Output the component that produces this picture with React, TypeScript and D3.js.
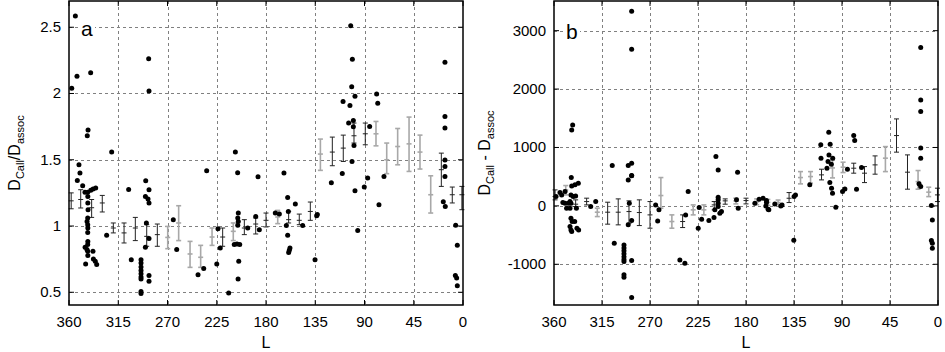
import * as d3 from 'd3'

// galactic longitude ticks (reversed axis)
const lTicks = [360, 315, 270, 225, 180, 135, 90, 45, 0]
const ratioTicks = [0.5, 1, 1.5, 2, 2.5]
const diffTicks = [-1000, 0, 1000, 2000, 3000]

// panel a: individual clouds [L, Dcall/Dassoc]
const ratioDots: [number, number][] = [
  [354.2, 2.585], [352.7, 2.131], [357.5, 2.04], [340.2, 2.156], [342.6, 1.724], [343.3, 1.681],
  [321.0, 1.558], [350.9, 1.462], [350.0, 1.4], [352.4, 1.344], [347.5, 1.304], [345.4, 1.254],
  [342.9, 1.254], [342.8, 1.223], [342.8, 1.174], [342.6, 1.123], [342.9, 1.06], [343.5, 1.035],
  [342.9, 1.01], [342.8, 0.985], [342.9, 0.952], [342.8, 0.884], [342.9, 0.86], [345.3, 0.84],
  [343.6, 0.822], [342.9, 0.809], [342.8, 0.777], [338.1, 0.809], [337.7, 0.752], [336.0, 0.734],
  [334.7, 0.709], [344.8, 0.714], [340.1, 1.269], [338.0, 1.279], [335.6, 1.287], [325.6, 0.93],
  [305.5, 1.276], [303.1, 0.746], [289.9, 1.342], [290.2, 1.223], [287.8, 1.204], [286.9, 1.174],
  [286.9, 1.274], [289.3, 1.023], [286.9, 0.905], [290.2, 0.84], [286.9, 0.626], [286.9, 0.583],
  [294.2, 0.746], [294.2, 0.72], [294.2, 0.69], [294.2, 0.665], [294.2, 0.64], [294.2, 0.615],
  [294.2, 0.6], [294.2, 0.505], [294.2, 0.49],
  [287.2, 2.263], [286.9, 2.018], [264.7, 1.048], [261.6, 0.822], [242.1, 0.633], [236.9, 0.679],
  [234.2, 1.417], [225.0, 0.714], [223.9, 0.98], [221.8, 0.835], [214.1, 0.495], [209.0, 0.86],
  [208.0, 1.558], [205.9, 1.402], [205.3, 1.098], [205.8, 1.06], [205.3, 1.035], [205.8, 1.005],
  [206.5, 0.865], [204.0, 0.86], [204.9, 0.734], [205.5, 0.601], [196.7, 0.985], [187.3, 1.372],
  [186.1, 0.972], [189.4, 1.071], [171.5, 1.098], [167.8, 1.09], [163.6, 1.4], [160.2, 1.216],
  [159.6, 1.11], [161.4, 1.003], [160.2, 0.93], [158.1, 0.835], [158.7, 0.817], [159.3, 0.801],
  [153.2, 1.166], [146.5, 1.003], [135.2, 0.746], [133.7, 1.078], [133.1, 1.086], [120.3, 1.327],
  [102.6, 2.512], [101.1, 2.259], [101.7, 2.05], [98.7, 1.98], [109.6, 1.939], [103.3, 1.909],
  [104.5, 1.777], [100.2, 1.796], [100.2, 1.749], [99.6, 1.608], [101.4, 1.487], [110.3, 1.397],
  [98.7, 1.266], [96.2, 0.967], [90.2, 1.294], [78.9, 1.997], [77.9, 1.927], [85.3, 1.751],
  [87.1, 1.362], [76.8, 1.161], [72.2, 1.374], [16.5, 2.236], [16.5, 1.826], [16.5, 1.739],
  [16.5, 1.498], [16.5, 1.45], [16.5, 1.374], [18.0, 1.184], [16.2, 1.148], [6.7, 1.005],
  [5.2, 0.854], [7.0, 0.626], [5.8, 0.608], [5.2, 0.55],
]

// panel a binned means [L, mean, low, high]
const ratioBinsDark: [number, number, number, number][] = [
  [358, 1.19, 1.13, 1.25], [349.3, 1.2, 1.136, 1.274], [339.3, 1.138, 1.065, 1.2],
  [329.6, 1.174, 1.106, 1.231], [319.5, 0.985, 0.948, 1.023], [309.7, 0.948, 0.872, 1.023],
  [299.4, 0.985, 0.89, 1.065], [289, 0.922, 0.847, 1.01], [279.3, 0.935, 0.847, 1.015],
  [219.6, 0.917, 0.847, 0.985], [199.8, 0.985, 0.935, 1.048], [189.4, 1.015, 0.94, 1.061],
  [180, 1.043, 0.993, 1.098], [159.3, 1.048, 1.023, 1.11], [149.6, 1.043, 1.01, 1.09],
  [139.5, 1.11, 1.043, 1.181], [119.4, 1.558, 1.455, 1.671], [109.4, 1.588, 1.487, 1.686],
  [99.6, 1.681, 1.626, 1.777], [89.3, 1.696, 1.613, 1.777], [19.8, 1.425, 1.299, 1.55],
  [9.8, 1.236, 1.174, 1.294], [1, 1.236, 1.123, 1.299],
]
const ratioBinsLight: [number, number, number, number][] = [
  [269.8, 0.914, 0.829, 0.997], [259.8, 1.023, 0.89, 1.153], [249.4, 0.789, 0.688, 0.884],
  [239.7, 0.764, 0.688, 0.854], [229.3, 0.917, 0.854, 0.985], [209.9, 0.96, 0.89, 1.023],
  [169.3, 1.068, 1.018, 1.118], [130.3, 1.543, 1.42, 1.656], [79.5, 1.696, 1.605, 1.789],
  [69.7, 1.5, 1.395, 1.626], [59.7, 1.6, 1.462, 1.736], [49.3, 1.62, 1.412, 1.822],
  [39.3, 1.558, 1.43, 1.686], [29.5, 1.236, 1.098, 1.379],
]

// panel b: individual clouds [L, Dcall - Dassoc]
const diffDots: [number, number][] = [
  [287.2, 3334], [287.2, 2683], [342.5, 1387], [343.4, 1301], [343.8, 485], [305.4, 690],
  [290.4, 690], [287.2, 731], [287.2, 519], [358.1, 160], [354.4, 228], [352.8, 188],
  [349.6, 245], [343.4, 342], [340.3, 360], [337.2, 388], [344.1, 188], [342.0, 160],
  [339.7, 171], [345.0, 74], [346.6, 46], [344.1, 46], [348.2, -39], [345.0, -39], [339.0, -39],
  [344.1, -211], [343.0, -268], [345.0, -354], [344.1, -411], [343.4, -440], [340.6, -268],
  [338.5, -382], [336.9, -411], [351.7, 57], [349.6, 46], [325.6, -12], [320.9, 74],
  [303.5, -639], [294.4, -668], [294.4, -720], [294.4, -770], [294.4, -820], [294.4, -870],
  [294.4, -920], [294.4, -954], [294.4, -1181], [294.4, -1221], [287.2, -937], [287.2, -1570],
  [290.4, 445], [287.2, 514], [289.4, 46], [290.4, -325], [287.2, -251], [264.7, 17],
  [261.6, -68], [262.8, -257], [242.0, -925], [237.3, -982], [234.2, 245], [236.6, -154],
  [223.9, -29], [221.6, -228], [224.8, -382], [214.8, -251], [206.1, 616], [208.2, 844],
  [206.1, 149], [206.1, 103], [206.1, 46], [206.1, -12], [209.2, -68], [204.5, -125],
  [203.0, -97], [210.0, -200], [187.9, 577], [188.9, 103], [187.3, -39], [171.7, 46],
  [167.7, 115], [164.0, 131], [160.8, 91], [160.8, 57], [161.4, 0], [159.3, -57], [158.6, -68],
  [153.0, 34], [147.4, 0], [146.2, 17], [134.9, 160], [133.6, 188], [135.2, -588], [120.2, 360],
  [102.4, 1262], [109.9, 1045], [101.1, 1056], [109.7, 817], [102.2, 873], [98.7, 817],
  [103.1, 759], [100.0, 714], [104.1, 645], [101.4, 399], [99.8, 303], [98.9, 217], [95.8, -23],
  [79.0, 1204], [78.1, 1118], [84.9, 628], [71.7, 656], [89.5, 245], [87.3, 291], [76.4, 285],
  [16.2, 2711], [16.2, 1815], [16.2, 1615], [16.2, 993], [16.2, 817], [17.8, 377], [16.2, 331],
  [6.2, 6], [5.3, -240], [6.2, -594], [5.3, -639], [5.3, -725],
]

// panel b binned means [L, mean, low, high]
const diffBinsDark: [number, number, number, number][] = [
  [359, 160, 103, 274], [339.7, 29, -12, 103], [329.4, 74, 17, 132], [309.7, -108, -313, 63],
  [299.8, -108, -325, 120], [289.7, -97, -297, 86], [280, -114, -337, 103], [270, -154, -382, 74],
  [239.4, -268, -371, -154], [209.8, 17, -68, 74], [199.5, 86, 29, 120], [180, 91, 34, 132],
  [139.6, 131, 57, 228], [109.2, 531, 445, 628], [79, 645, 560, 731], [68.9, 560, 399, 673],
  [59, 702, 543, 856], [38.9, 1204, 920, 1489], [28.6, 577, 286, 873], [0.5, 188, 74, 303],
]
const diffBinsLight: [number, number, number, number][] = [
  [349, 274, 188, 348], [319.4, -108, -183, -39], [259.8, 177, -39, 485], [249.5, -268, -382, -154],
  [229.5, -68, -154, 17], [219.5, -68, -154, 17], [189.5, 86, 34, 132], [170, 70, 20, 120],
  [159.5, 60, 10, 110], [149.9, 57, 20, 100], [128.9, 485, 377, 587], [119.5, 502, 389, 587],
  [98.9, 650, 479, 787], [89, 663, 571, 748], [49.3, 817, 587, 1015], [18.7, 416, 286, 605],
  [8.7, 235, 159, 320],
]

const font = '"Liberation Sans", Arial, Helvetica, sans-serif'

type PanelProps = {
  left: number
  right: number
  yDomain: [number, number]
  yTicks: number[]
  dots: [number, number][]
  darkBins: [number, number, number, number][]
  lightBins: [number, number, number, number][]
  tag: string
  tagX: number
  tagY: number
  titleX: number
  sep: string
}

const top = 1
const bottom = 305

function ErrBars({ bins, x, y, color, width }: any) {
  return (
    <g stroke={color} strokeWidth={width} fill="none">
      {bins.map((b: number[], i: number) => {
        const cx = x(b[0])
        return (
          <g key={i}>
            <line x1={cx} x2={cx} y1={y(b[2])} y2={y(b[3])} />
            <line x1={cx - 2.5} x2={cx + 2.5} y1={y(b[2])} y2={y(b[2])} />
            <line x1={cx - 2.5} x2={cx + 2.5} y1={y(b[3])} y2={y(b[3])} />
            <line x1={cx - 2.5} x2={cx + 2.5} y1={y(b[1])} y2={y(b[1])} />
          </g>
        )
      })}
    </g>
  )
}

function Panel(p: PanelProps) {
  const x = d3.scaleLinear().domain([360, 0]).range([p.left, p.right])
  const y = d3.scaleLinear().domain(p.yDomain).range([bottom, top])
  const tick = 5
  return (
    <g fontFamily={font}>
      {/* grid */}
      <g stroke="#808080" strokeWidth={1} strokeDasharray="3,3">
        {lTicks.slice(1, -1).map(t => (
          <line key={t} x1={Math.round(x(t)) + 0.5} x2={Math.round(x(t)) + 0.5} y1={top} y2={bottom} />
        ))}
        {p.yTicks.map(t => (
          <line key={t} x1={p.left} x2={p.right} y1={Math.round(y(t)) + 0.5} y2={Math.round(y(t)) + 0.5} />
        ))}
      </g>
      {/* tics on all four sides */}
      <g stroke="#000" strokeWidth={1}>
        {lTicks.map(t => (
          <g key={t}>
            <line x1={x(t)} x2={x(t)} y1={bottom} y2={bottom - tick} />
            <line x1={x(t)} x2={x(t)} y1={top} y2={top + tick} />
          </g>
        ))}
        {p.yTicks.map(t => (
          <g key={t}>
            <line x1={p.left} x2={p.left + tick} y1={y(t)} y2={y(t)} />
            <line x1={p.right} x2={p.right - tick} y1={y(t)} y2={y(t)} />
          </g>
        ))}
      </g>
      <ErrBars bins={p.lightBins} x={x} y={y} color="#a8a8a8" width={1.6} />
      <ErrBars bins={p.darkBins} x={x} y={y} color="#222" width={1} />
      <g fill="#000">
        {p.dots.map((d, i) => (
          <circle key={i} cx={x(d[0])} cy={y(d[1])} r={2.5} />
        ))}
      </g>
      <rect x={p.left} y={top} width={p.right - p.left} height={bottom - top} fill="none" stroke="#000" strokeWidth={1.5} />
      {/* tick labels */}
      <g fontSize={15} fill="#000">
        {lTicks.map(t => (
          <text key={t} x={x(t)} y={327} textAnchor="middle">{t}</text>
        ))}
        {p.yTicks.map(t => (
          <text key={t} x={p.left - 8} y={y(t) + 5} textAnchor="end">{t}</text>
        ))}
      </g>
      <rect x={p.tagX - 2} y={p.tagY - 17} width={16} height={20} fill="#fff" />
      <text x={p.tagX} y={p.tagY} fontSize={21}>{p.tag}</text>
      <text x={(p.left + p.right) / 2} y={348} fontSize={16} textAnchor="middle">L</text>
      <text transform={`translate(${p.titleX},${(top + bottom) / 2}) rotate(-90)`} fontSize={16} textAnchor="middle">
        D<tspan fontSize={11} dy={4}>Call</tspan>
        <tspan dy={-4}>{p.sep}</tspan>D<tspan fontSize={11} dy={4}>assoc</tspan>
      </text>
    </g>
  )
}

export default function App() {
  return (
    <svg width={945} height={352} style={{ position: 'absolute', left: 0, top: 0, background: '#fff' }}>
      <rect width={945} height={352} fill="#fff" />
      <Panel
        left={69}
        right={463}
        yDomain={[0.404, 2.698]}
        yTicks={ratioTicks}
        dots={ratioDots}
        darkBins={ratioBinsDark}
        lightBins={ratioBinsLight}
        tag="a"
        tagX={81}
        tagY={36}
        titleX={20}
        sep="/"
      />
      <Panel
        left={554}
        right={938}
        yDomain={[-1697, 3508]}
        yTicks={diffTicks}
        dots={diffDots}
        darkBins={diffBinsDark}
        lightBins={diffBinsLight}
        tag="b"
        tagX={566}
        tagY={39}
        titleX={490}
        sep=" - "
      />
    </svg>
  )
}
